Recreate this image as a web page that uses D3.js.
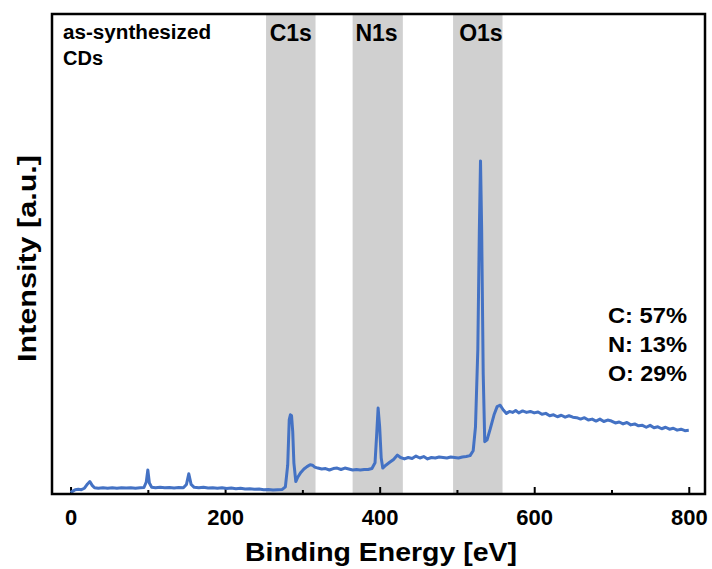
<!DOCTYPE html>
<html>
<head>
<meta charset="utf-8">
<script src="https://cdn.jsdelivr.net/npm/d3@7"></script>
<style>
  body { margin: 0; background: #fff; }
  text { font-family: "Liberation Sans", Arial, sans-serif; font-weight: bold; fill: #000; }
</style>
</head>
<body>
<svg id="chart" width="712" height="569"></svg>
<script>
// spectrum
var energy = [0, 3, 6, 10, 14, 18, 22, 25, 28, 31, 36, 42, 48, 54, 60, 66, 72, 78, 84, 90,
  95, 98, 100, 102, 105, 110, 116, 122, 128, 134, 140, 146, 150, 153, 156, 160, 166, 172, 178, 184,
  190, 196, 202, 208, 214, 220, 226, 232, 238, 244, 250, 256, 262, 268, 274, 278, 281, 283, 284.5, 286,
  287.5, 289, 291.5, 294, 298, 302, 306, 310, 313, 316, 320, 325, 330, 335, 340, 345, 350, 355, 360, 365,
  370, 375, 380, 385, 390, 394, 396, 398, 400, 402, 404, 408, 413, 418, 423, 427, 432, 437, 442, 447,
  452, 457, 462, 467, 472, 477, 482, 487, 492, 497, 502, 507, 512, 517, 521, 524, 527, 529, 530.5, 532,
  534, 536, 539, 543, 548, 552, 556, 560, 564, 568, 572, 576, 580, 585, 590, 595, 600, 605, 610, 615,
  620, 625, 630, 635, 640, 645, 650, 655, 660, 665, 670, 675, 680, 685, 690, 695, 700, 705, 710, 715,
  720, 725, 730, 735, 740, 745, 750, 755, 760, 765, 770, 775, 780, 785, 790, 795, 800];
var intensity = [0.3, 0.6, 0.9, 1.0, 0.9, 1.2, 2.1, 2.6, 1.8, 1.3, 1.2, 1.3, 1.2, 1.3, 1.2, 1.3, 1.25, 1.3, 1.2, 1.3,
  1.35, 2.5, 5.0, 2.3, 1.4, 1.3, 1.4, 1.3, 1.35, 1.25, 1.35, 1.3, 2.0, 4.2, 2.0, 1.4, 1.3, 1.4, 1.25, 1.3,
  1.2, 1.3, 1.15, 1.25, 1.1, 1.2, 1.05, 1.1, 1.0, 1.05, 0.9, 0.95, 0.85, 0.9, 0.95, 1.5, 6.0, 15.5, 16.5, 16.3,
  13.0, 6.5, 2.6, 3.5, 4.5, 5.2, 5.7, 6.1, 6.0, 5.6, 5.4, 5.2, 5.3, 5.0, 5.3, 5.4, 5.1, 5.4, 5.2, 5.0,
  5.1, 5.0, 5.1, 5.1, 5.3, 6.5, 12.0, 17.9, 14.0, 7.5, 5.4, 6.0, 6.6, 7.2, 8.1, 7.6, 7.3, 7.6, 7.4, 7.9,
  7.5, 7.8, 7.3, 7.6, 7.5, 7.7, 7.6, 7.5, 7.7, 7.6, 7.5, 7.7, 7.8, 8.0, 9.0, 14.0, 30.0, 55.0, 69.4, 55.0,
  25.0, 10.9, 11.3, 13.5, 16.5, 18.2, 18.5, 17.5, 16.8, 17.2, 17.0, 17.4, 16.9, 17.3, 17.0, 17.2, 16.9, 17.1, 16.6, 16.8,
  16.3, 16.5, 16.1, 16.4, 16.0, 16.3, 16.0, 15.9, 15.6, 15.9, 15.4, 15.6, 15.2, 15.6, 15.1, 15.4, 15.2, 14.8, 15.0, 14.6,
  14.9, 14.4, 14.6, 14.2, 14.3, 13.9, 14.3, 13.8, 14.0, 13.6, 13.9, 13.5, 13.7, 13.3, 13.5, 13.2, 13.3];

// shaded regions
var bandNames = ["C1s", "N1s", "O1s"];
var bandStart = [253, 365, 495];
var bandEnd = [317, 430, 559];
var bandLabelAt = [285, 396, 531];

var compLabels = ["C: 57%", "N: 13%", "O: 29%"];
var majorTicks = [0, 200, 400, 600, 800];
var minorTicks = [100, 300, 500, 700];

// note: "top" is taken by window.top, so use other names
var svg = d3.select("#chart"),
    pLeft = 52, pRight = 705, pTop = 14, pBottom = 494;

var x = d3.scaleLinear().domain([-24, 821]).range([pLeft, pRight]);
var y = d3.scaleLinear().domain([0, 100]).range([pBottom, pTop]);

var bands = d3.range(bandNames.length);

svg.selectAll(".band")
  .data(bands)
  .enter().append("rect")
  .attr("class", "band")
  .attr("x", function(i) { return x(bandStart[i]); })
  .attr("width", function(i) { return x(bandEnd[i]) - x(bandStart[i]); })
  .attr("y", pTop)
  .attr("height", pBottom - pTop)
  .attr("fill", "#d0d0d0");

svg.selectAll(".bandlabel")
  .data(bands)
  .enter().append("text")
  .attr("x", function(i) { return x(bandLabelAt[i]); })
  .attr("y", 41)
  .attr("text-anchor", "middle")
  .style("font-size", "23px")
  .text(function(i) { return bandNames[i]; });

// minor ticks first, then major with labels
svg.append("g")
  .attr("transform", "translate(0," + pBottom + ")")
  .call(d3.axisBottom(x).tickValues(minorTicks).tickSize(-4).tickFormat(""))
  .call(function(g) { g.select(".domain").remove(); })
  .selectAll("line").attr("stroke-width", 2);

var xAxis = svg.append("g")
  .attr("transform", "translate(0," + pBottom + ")")
  .call(d3.axisBottom(x).tickValues(majorTicks).tickSize(-7));
xAxis.select(".domain").remove();
xAxis.selectAll("line").attr("stroke-width", 2);
xAxis.selectAll("text")
  .attr("dy", "0")
  .attr("y", 31)
  .style("font-size", "22px")
  .style("font-family", "'Liberation Sans', Arial, sans-serif")
  .style("font-weight", "bold");

var line = d3.line()
  .x(function(d) { return x(d); })
  .y(function(d, i) { return y(intensity[i]); });

svg.append("path")
  .datum(energy)
  .attr("d", line)
  .attr("fill", "none")
  .attr("stroke", "#4472c4")
  .attr("stroke-width", 3)
  .attr("stroke-linejoin", "round");

svg.append("rect")
  .attr("x", pLeft)
  .attr("y", pTop)
  .attr("width", pRight - pLeft)
  .attr("height", pBottom - pTop)
  .attr("fill", "none")
  .attr("stroke", "#000")
  .attr("stroke-width", 2.5);

svg.append("text")
  .attr("x", 63)
  .attr("y", 39)
  .attr("textLength", 148)
  .attr("lengthAdjust", "spacingAndGlyphs")
  .style("font-size", "20px")
  .text("as-synthesized");
svg.append("text")
  .attr("x", 63)
  .attr("y", 65)
  .style("font-size", "20px")
  .text("CDs");

svg.selectAll(".comp")
  .data(compLabels)
  .enter().append("text")
  .attr("class", "comp")
  .attr("x", 608)
  .attr("y", function(d, i) { return 323 + i * 29; })
  .attr("textLength", 79)
  .attr("lengthAdjust", "spacingAndGlyphs")
  .style("font-size", "22px")
  .text(function(d) { return d; });

svg.append("text")
  .attr("x", 245)
  .attr("y", 561)
  .attr("textLength", 272)
  .attr("lengthAdjust", "spacingAndGlyphs")
  .style("font-size", "25.5px")
  .text("Binding Energy [eV]");

svg.append("text")
  .attr("transform", "translate(36,362) rotate(-90)")
  .attr("textLength", 207)
  .attr("lengthAdjust", "spacingAndGlyphs")
  .style("font-size", "25.5px")
  .text("Intensity [a.u.]");
</script>
</body>
</html>
